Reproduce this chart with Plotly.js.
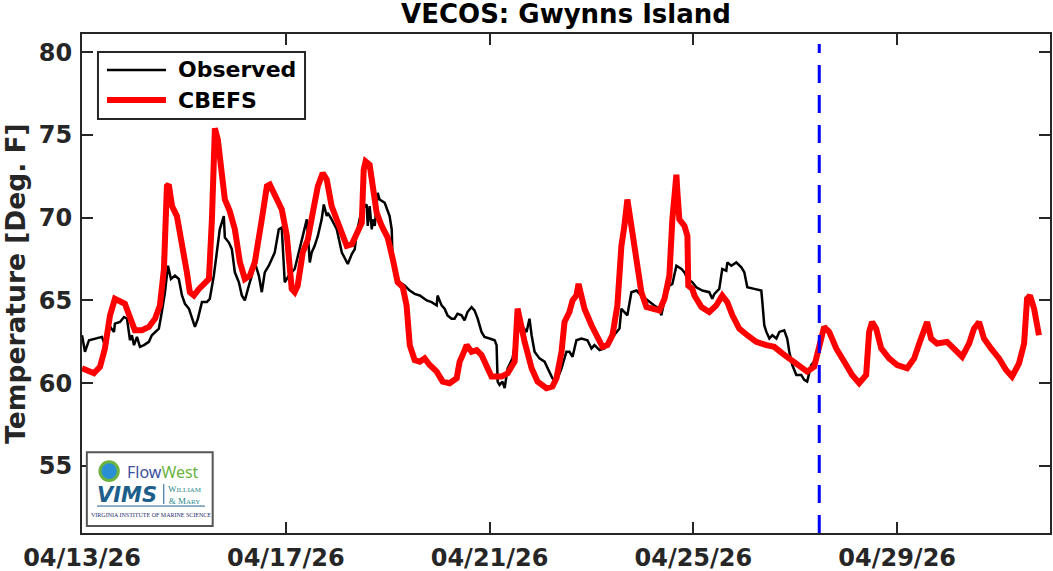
<!DOCTYPE html>
<html>
<head>
<meta charset="utf-8">
<script src="https://cdn.plot.ly/plotly-3.0.1.min.js"></script>
<style>html,body{margin:0;padding:0;background:#fff;}#chart{width:1053px;height:571px;}</style>
</head>
<body>
<div id="chart"></div>
<script>
// Hours since 2026-04-13 00:00
const startDate = "2026-04-13";
const endDate = "2026-05-02";
const forecastStartHour = 347.3;
const seriesNames = ['Observed', 'CBEFS'];

const obsHours = [0,1.4,3.3,6.1,9.4,10.8,12.7,15.1,15.5,17.9,19.8,21.2,22.6,23.5,24.5,25.9,27.3,29.2,31.5,32.9,34.4,36.2,37.6,39.1,40.5,41.9,43.8,45.6,47.1,48.5,50.4,51.8,53.2,54.6,56.5,58.8,60.2,62.1,63.5,64.9,66.8,67.3,69.2,70.6,72.0,73.9,75.3,76.7,78.6,80.0,81.4,83.3,84.7,86.1,88.0,89.4,90.8,92.7,94.1,95.5,97.4,100.2,102.6,104.0,105.9,107.3,108.2,109.6,111.1,112.9,113.9,115.3,115.8,117.6,120.0,122.4,123.8,125.2,127.1,128.5,129.4,130.8,131.8,134.1,134.6,135.5,136.5,136.9,137.9,139.3,140.2,142.6,144.9,145.9,146.2,148.2,149.6,152.0,154.4,156.7,159.1,162.4,164.7,167.1,167.5,169.4,170.8,172.2,174.1,175.5,176.9,178.8,180.2,181.6,183.5,184.9,186.4,188.2,189.6,192.0,194.4,195.3,195.8,196.7,198.1,199.1,200.5,202.8,205.2,207.1,209.4,210.8,211.8,213.2,215.5,217.9,220.2,221.6,223.5,225.9,228.2,229.6,231.1,232.9,235.3,238.1,240.0,241.4,243.8,246.1,249.4,251.8,253.2,254.1,255.5,256.9,258.8,261.2,263.5,266.4,269.6,272.0,272.9,274.4,276.7,278.1,280.0,282.4,283.8,285.2,287.5,289.4,292.2,295.5,296.9,297.9,300.2,301.6,303.5,304.0,305.9,308.2,310.6,312.0,313.4,316.7,320.0,320.5,321.4,322.4,323.8,325.2,327.1,328.5,330.8,332.2,333.2,334.6,336.5,338.8,340.2,341.6,343.5,344.9];
const obsTemp = [62.9,61.9,62.6,62.7,62.8,62.3,63.5,63.1,63.6,63.7,64.0,63.9,62.6,62.9,62.3,62.8,62.2,62.3,62.5,62.9,63.1,63.3,64.3,65.5,67.1,66.3,66.5,66.3,65.3,64.8,64.5,63.9,63.4,63.9,64.9,64.9,65.1,66.5,67.9,69.3,70.1,68.8,68.5,68.1,66.7,66.1,65.3,65.0,65.9,66.5,67.3,66.5,65.5,66.7,67.1,67.5,67.9,69.3,69.4,66.1,66.5,66.9,68.1,68.9,69.9,67.3,67.9,68.3,68.9,69.9,70.8,70.1,70.3,69.9,69.3,67.9,67.5,67.2,67.8,68.1,69.1,69.9,70.5,70.8,69.5,70.7,69.3,69.9,69.5,71.5,71.1,70.9,70.1,69.3,67.9,66.5,66.1,65.9,65.6,65.4,65.3,65.0,64.9,64.7,65.3,64.7,64.5,64.1,63.9,63.9,64.2,64.1,63.8,64.3,64.6,64.4,63.9,63.1,62.8,62.7,62.6,62.3,60.1,59.9,60.1,59.7,60.9,61.5,63.3,63.5,63.1,63.9,62.9,61.9,61.5,61.3,60.7,60.3,60.1,60.9,61.9,61.9,61.6,62.6,62.7,62.6,62.1,62.3,62.0,62.1,62.7,63.1,63.3,64.5,64.3,64.1,65.5,65.6,65.3,65.0,64.7,64.5,64.1,65.0,65.9,66.0,67.1,66.9,66.7,66.3,66.1,65.8,65.6,65.5,65.1,65.4,65.7,66.9,66.8,67.3,67.1,67.3,67.0,66.7,65.8,65.7,65.6,64.9,63.5,63.1,62.7,62.9,62.7,63.1,63.2,62.7,61.9,61.1,60.5,60.5,60.2,60.1,61.1,61.3];

const modelHours = [0,5.6,8.5,10.8,13.2,15.5,20.2,22.6,24.9,28.2,31.5,34.4,36.7,38.6,40.0,40.9,42.4,44.7,47.1,49.4,50.8,52.7,55.1,57.4,59.8,61.2,62.1,62.6,64.0,65.9,67.3,69.6,72.0,74.4,76.7,79.1,81.4,84.7,87.1,88.5,90.8,94.1,96.5,98.8,100.2,101.6,104.0,106.4,108.7,111.1,113.4,115.3,117.6,120.0,122.4,124.7,127.1,129.4,131.8,132.7,133.6,135.5,136.9,138.8,141.2,144.0,146.4,148.7,151.1,152.9,154.4,156.7,159.1,161.4,163.8,167.1,169.9,173.2,176.5,177.9,179.3,181.2,183.5,185.9,188.2,190.6,192.9,194.4,197.6,200.5,203.8,205.2,206.1,208.5,211.8,214.6,218.8,221.6,223.5,225.9,227.3,229.6,231.1,232.9,233.9,235.3,236.7,240.0,242.4,245.2,247.5,249.9,252.2,254.1,255.5,256.9,258.8,261.2,263.5,265.9,268.7,272.0,274.4,276.7,278.1,280.0,280.5,281.4,283.8,285.2,285.6,287.5,288.5,291.8,295.5,298.8,301.6,304.0,306.4,309.6,313.4,317.6,322.4,326.1,329.9,334.6,338.8,341.6,344.9,347.3,349.6,352.0,355.3,360.0,362.8,366.1,369.4,370.8,372.2,374.1,376.5,380.2,384.0,388.7,392.0,394.4,398.1,400.0,402.8,407.5,410.8,414.6,417.9,420.2,422.6,424.9,428.2,432.0,435.3,438.1,441.4,443.8,445.2,446.6,448.5,450.8];
const modelTemp = [60.9,60.6,61.0,62.1,64.1,65.1,64.8,63.9,63.2,63.2,63.4,63.9,64.7,66.9,71.9,72.0,70.7,70.1,68.5,66.7,65.5,65.3,65.7,66.0,66.3,69.9,73.9,75.4,74.7,72.3,71.1,70.4,69.3,67.3,66.3,66.5,67.3,69.9,71.9,72.0,71.3,70.5,68.9,65.7,65.5,65.9,67.9,68.7,70.3,71.9,72.7,72.3,70.7,69.9,69.1,68.3,68.4,69.0,69.7,72.9,73.4,73.2,72.1,70.3,69.5,68.8,67.5,66.1,65.8,64.7,62.3,61.4,61.3,61.5,61.1,60.7,60.1,60.0,60.3,61.3,61.7,62.3,61.9,62.0,61.7,61.0,60.4,60.4,60.4,60.6,61.3,64.5,63.9,62.5,60.9,60.1,59.7,59.8,60.3,61.9,63.7,64.3,65.0,65.3,66.0,65.3,64.5,63.5,62.9,62.2,62.3,62.9,64.7,68.3,69.5,71.1,69.5,67.5,65.5,64.6,64.5,64.4,65.1,66.5,69.9,72.6,71.5,69.9,69.5,68.9,65.9,65.7,65.3,64.6,64.3,64.7,65.3,64.9,64.1,63.3,62.9,62.5,62.3,62.2,61.8,61.4,61.0,60.7,61.0,62.3,63.4,63.1,62.1,61.1,60.5,60.0,60.5,63.1,63.7,63.3,62.1,61.5,61.1,60.9,61.5,62.4,63.7,62.7,62.4,62.5,62.1,61.6,62.4,63.3,63.7,62.7,62.1,61.5,60.8,60.4,61.2,62.4,65.1,65.3,64.5,62.9];

const yTickVals = [55,60,65,70,75,80];
const xTickVals = ["2026-04-13","2026-04-17","2026-04-21","2026-04-25","2026-04-29"];

const t0 = Date.UTC(2026,3,13,0,0,0);
function toDate(h){ return new Date(t0 + h*3600000).toISOString().replace('T',' ').slice(0,19); }

const axisColor = '#262626';
const font = 'DejaVu Sans, Arial, sans-serif';
const obsColor = '#000000', modelColor = '#ff0000';
const obsWidth = 2.5, modelWidth = 6;

const traces = [
  {x: obsHours.map(toDate), y: obsTemp, name: seriesNames[0], type: 'scatter', mode: 'lines',
   line: {color: obsColor, width: obsWidth}},
  {x: modelHours.map(toDate), y: modelTemp, name: seriesNames[1], type: 'scatter', mode: 'lines',
   line: {color: modelColor, width: modelWidth}}
];

// legend box (drawn in paper coordinates)
const lg = {x0: 0.0165, x1: 0.2304, y0: 0.8297, y1: 0.9639, sx0: 0.0258, sx1: 0.0868, tx: 0.0971, ys: [0.9279, 0.8677]};

const layout = {
  width: 1053, height: 571,
  margin: {l: 82, r: 3, t: 34, b: 38},
  paper_bgcolor: '#ffffff', plot_bgcolor: '#ffffff',
  font: {family: font, color: axisColor},
  showlegend: false,
  title: {text: 'VECOS: Gwynns Island', x: 0.5375, xanchor: 'center', y: 0.975, yanchor: 'middle',
          font: {family: font, size: 26, weight: 700, color: '#000'}},
  xaxis: {type: 'date', range: [startDate, endDate], tickvals: xTickVals, tickformat: '%m/%d/%y',
          ticks: 'inside', ticklen: 11, tickwidth: 2, tickcolor: axisColor, mirror: 'ticks',
          showline: true, linecolor: axisColor, linewidth: 2, showgrid: false, zeroline: false,
          ticklabelstandoff: 2,
          tickfont: {family: font, size: 24, weight: 700, color: axisColor}},
  yaxis: {range: [50.95, 81.1], tickvals: yTickVals,
          ticks: 'inside', ticklen: 11, tickwidth: 2, tickcolor: axisColor, mirror: 'ticks',
          showline: true, linecolor: axisColor, linewidth: 2, showgrid: false, zeroline: false,
          ticklabelstandoff: 3,
          tickfont: {family: font, size: 24, weight: 700, color: axisColor},
          title: {text: 'Temperature [Deg. F]', standoff: 12, font: {family: font, size: 26.5, weight: 700, color: axisColor}}},
  shapes: [
    {type: 'line', xref: 'x', yref: 'paper', x0: toDate(forecastStartHour), x1: toDate(forecastStartHour), y0: 0, y1: 0.98,
     line: {color: '#0000ff', width: 3, dash: '18px,12px'}},
    // legend
    {type: 'rect', xref: 'paper', yref: 'paper', x0: lg.x0, x1: lg.x1, y0: lg.y0, y1: lg.y1,
     fillcolor: '#ffffff', line: {color: axisColor, width: 2}},
    {type: 'line', xref: 'paper', yref: 'paper', x0: lg.sx0, x1: lg.sx1, y0: lg.ys[0], y1: lg.ys[0],
     line: {color: obsColor, width: obsWidth}},
    {type: 'line', xref: 'paper', yref: 'paper', x0: lg.sx0, x1: lg.sx1, y0: lg.ys[1], y1: lg.ys[1],
     line: {color: modelColor, width: modelWidth}},
    // logo box
    {type: 'rect', xref: 'paper', yref: 'paper', x0: 0.005, x1: 0.135, y0: 0.014, y1: 0.162,
     fillcolor: '#ffffff', line: {color: '#555555', width: 2}},
    {type: 'circle', xref: 'paper', yref: 'paper', x0: 0.0185, x1: 0.0375, y0: 0.105, y1: 0.143,
     fillcolor: '#2b8fd4', line: {color: '#6cb33f', width: 3}},
    {type: 'line', xref: 'paper', yref: 'paper', x0: 0.0845, x1: 0.0845, y0: 0.058, y1: 0.098,
     line: {color: '#1d5f8a', width: 1}},
    {type: 'line', xref: 'paper', yref: 'paper', x0: 0.0155, x1: 0.127, y0: 0.054, y1: 0.054,
     line: {color: '#1d5f8a', width: 1}}
  ],
  annotations: [
    {xref: 'paper', yref: 'paper', x: lg.tx, y: lg.ys[0], xanchor: 'left', yanchor: 'middle', showarrow: false,
     text: seriesNames[0], font: {family: font, size: 22, weight: 700, color: '#000'}},
    {xref: 'paper', yref: 'paper', x: lg.tx, y: lg.ys[1], xanchor: 'left', yanchor: 'middle', showarrow: false,
     text: seriesNames[1], font: {family: font, size: 22, weight: 700, color: '#000'}},
    {xref: 'paper', yref: 'paper', x: 0.0445, y: 0.122, xanchor: 'left', yanchor: 'middle', showarrow: false,
     text: '<span style="color:#3b4f9e">Flow</span><span style="color:#6cb33f">West</span>',
     font: {family: 'Noto Sans, sans-serif', size: 16}},
    {xref: 'paper', yref: 'paper', x: 0.0135, y: 0.076, xanchor: 'left', yanchor: 'middle', showarrow: false,
     text: '<b><i>VIMS</i></b>', font: {family: 'DejaVu Sans, sans-serif', size: 21, color: '#1d5f8a'}},
    {xref: 'paper', yref: 'paper', x: 0.087, y: 0.077, xanchor: 'left', yanchor: 'middle', showarrow: false,
     text: 'W<span style="font-size:7px">ILLIAM</span><br>&amp; M<span style="font-size:7px">ARY</span>',
     font: {family: 'Liberation Serif, serif', size: 9, color: '#1f8a8a'}},
    {xref: 'paper', yref: 'paper', x: 0.0712, y: 0.036, xanchor: 'center', yanchor: 'middle', showarrow: false,
     text: 'VIRGINIA INSTITUTE OF MARINE SCIENCE', font: {family: 'Liberation Serif, serif', size: 6, color: '#1d2f6e'}}
  ]
};

Plotly.newPlot('chart', traces, layout, {staticPlot: true, displayModeBar: false});
</script>
</body>
</html>
